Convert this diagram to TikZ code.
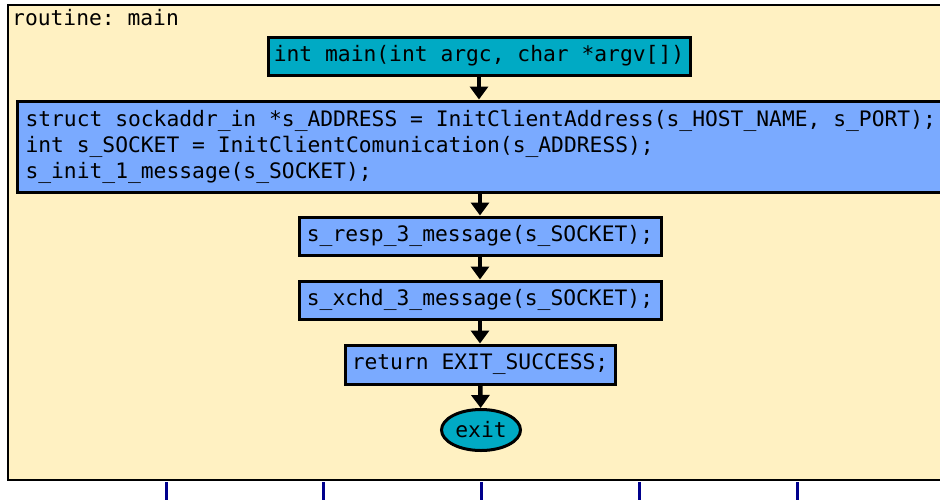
\documentclass[tikz,border=0pt]{standalone}
\usepackage{fontspec}
\setmonofont{DejaVu Sans Mono}
\usetikzlibrary{arrows.meta,shapes.geometric}
\definecolor{routinebg}{RGB}{255,241,194}
\definecolor{entryfill}{RGB}{0,170,196}
\definecolor{stmtfill}{RGB}{122,170,255}
\definecolor{wirenavy}{RGB}{0,0,140}

\begin{document}
\begin{tikzpicture}[x=1pt,y=-1pt,
    every node/.style={font=\ttfamily\fontsize{21.3}{26}\selectfont},
    stmt/.style={draw,line width=3pt,fill=stmtfill,inner sep=0pt,minimum height=38pt},
    flow/.style={-{Triangle[width=18pt,length=13pt]},line width=4.5pt}]
    \useasboundingbox (0,0) rectangle (940,499);
    \clip (0,0) rectangle (940,499);

    \draw[line width=2.5pt,fill=routinebg](8,5) rectangle (990,480);
    \node[anchor=base west,inner sep=0pt](title) at (12,25){routine: main};
    \foreach \x in {166,323,481,639,797}
        \draw[wirenavy,line width=3pt](\x,482)--(\x,505);

    \node[draw,line width=3pt,fill=entryfill,minimum width=422pt,minimum height=38pt,inner sep=0pt](main) at (479,56){int main(int argc, char *argv[])};
    \node[stmt,anchor=west,text width=970pt,align=flush left,inner xsep=8pt,minimum height=91pt](init) at (16,146.5)
        {struct sockaddr\_in *s\_ADDRESS = InitClientAddress(s\_HOST\_NAME, s\_PORT);\\
         int s\_SOCKET = InitClientComunication(s\_ADDRESS);\\
         s\_init\_1\_message(s\_SOCKET);};
    \node[stmt,minimum width=362pt](resp) at (480,236){s\_resp\_3\_message(s\_SOCKET);};
    \node[stmt,minimum width=362pt](xchd) at (480,300){s\_xchd\_3\_message(s\_SOCKET);};
    \node[stmt,minimum width=270pt,minimum height=39pt](ret) at (480,364.5){return EXIT\_SUCCESS;};
    \node[ellipse,draw,line width=3pt,fill=entryfill,minimum width=79pt,minimum height=41pt,inner sep=0pt](exit) at (481,430){exit};

    \draw[flow](main.south)--(main.south |- init.north);
    \draw[flow](resp.north |- init.south)--(resp.north);
    \draw[flow](resp)--(xchd);
    \draw[flow](xchd)--(ret);
    \draw[flow](ret)--(exit);
\end{tikzpicture}
\end{document}
